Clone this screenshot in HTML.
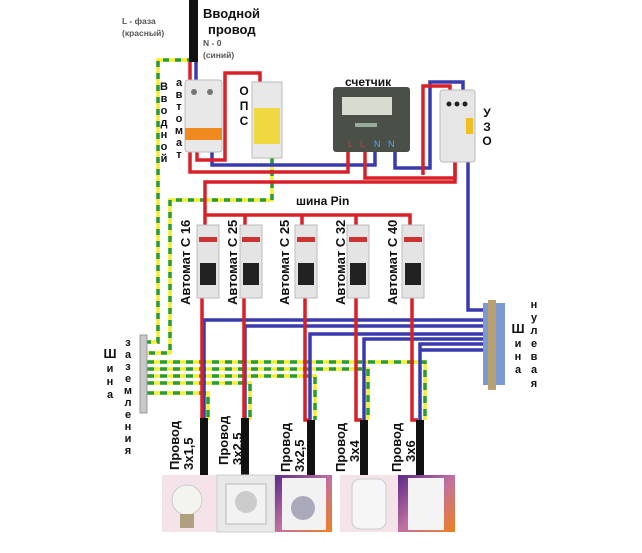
<!DOCTYPE html>
<html><head><meta charset="utf-8"><style>
html,body{margin:0;padding:0;background:#fff;}
svg{display:block;font-family:"Liberation Sans",sans-serif;}
.b{font-weight:bold;fill:#111;}
</style></head><body>
<svg width="642" height="553" viewBox="0 0 642 553" xmlns="http://www.w3.org/2000/svg">
<defs>
<linearGradient id="og" x1="0" y1="0" x2="1" y2="1"><stop offset="0" stop-color="#5a2a8a"/><stop offset="0.5" stop-color="#c070a0"/><stop offset="1" stop-color="#f08020"/></linearGradient>
</defs>
<g fill="none" stroke-width="3.5">
<path d="M193 60 H158 V342 H147" stroke="#f2ee30"/>
<path d="M193 60 H158 V342 H147" stroke="#2a9a3a" stroke-dasharray="6 6"/>
<path d="M272 158 V200 H170 V353 H147" stroke="#f2ee30"/>
<path d="M272 158 V200 H170 V353 H147" stroke="#2a9a3a" stroke-dasharray="6 6"/>
</g>
<g fill="none" stroke-width="3.5">
<g stroke="#f2ee30">
<path d="M147 362 H425 V420"/><path d="M147 369 H368 V420"/><path d="M147 376 H315 V420"/><path d="M147 383 H250 V420"/><path d="M147 393 H208 V420"/>
</g>
<g stroke="#2a9a3a" stroke-dasharray="7 6">
<path d="M147 362 H425 V420"/><path d="M147 369 H368 V420"/><path d="M147 376 H315 V420"/><path d="M147 383 H250 V420"/><path d="M147 393 H208 V420"/>
</g>
</g>
<g fill="none" stroke="#3a3ab0" stroke-width="3.5">
<path d="M196 62 V82"/>
<path d="M212 152 V165 H375 V150"/>
<path d="M395 150 V168 H430 V82 H463 V92"/>
<path d="M468 162 V310 H485"/>
<path d="M485 320 H204 V418"/>
<path d="M485 326 H245 V418"/>
<path d="M485 334 H310 V420"/>
<path d="M485 339 H364 V420"/>
<path d="M485 344 H420 V420"/>
<path d="M485 350 H421"/>
</g>
<g fill="none" stroke="#d82028" stroke-width="3.5">
<path d="M190 62 V82"/>
<path d="M190 152 V172 H348 V150"/>
<path d="M197 152 V160 H225 V73 H260 V84"/>
<path d="M365 150 V178 H455 V162"/>
<path d="M423 175 V86 H450 V92"/>
<path d="M455 162 V182 H205 V228"/>
<path d="M205 215 H245 V228 M245 215 H302 V228 M302 215 H356 V228 M356 215 H410 V228 M302 215 V228"/>
<path d="M202 298 V420 M244 298 V420 M305 298 V420 H310 M356 298 V420 H362 M412 298 V420 H418"/>
</g>
<rect x="189" y="0" width="9" height="62" fill="#111"/>
<rect x="185" y="80" width="37" height="72" rx="3" fill="#e8e8e8" stroke="#bbb"/>
<rect x="185" y="128" width="37" height="12" fill="#f08a20"/>
<circle cx="194" cy="92" r="3" fill="#777"/><circle cx="210" cy="92" r="3" fill="#777"/>
<rect x="252" y="82" width="30" height="76" fill="#e8e8e8" stroke="#bbb"/>
<rect x="254" y="108" width="26" height="36" fill="#f0d840"/>
<rect x="333" y="87" width="77" height="65" rx="3" fill="#4a5048"/>
<rect x="342" y="97" width="50" height="18" fill="#d8dcd0"/>
<rect x="355" y="123" width="22" height="4" fill="#9a9"/>
<text x="348" y="147" font-size="9" fill="#d33">L</text><text x="360" y="147" font-size="9" fill="#d33">L</text><text x="374" y="147" font-size="9" fill="#4af">N</text><text x="388" y="147" font-size="9" fill="#4af">N</text>
<rect x="440" y="90" width="35" height="72" rx="3" fill="#e6e6e6" stroke="#bbb"/>
<rect x="466" y="118" width="7" height="16" fill="#f0c020"/>
<circle cx="449" cy="104" r="2.5" fill="#222"/><circle cx="457" cy="104" r="2.5" fill="#222"/><circle cx="465" cy="104" r="2.5" fill="#222"/>
<g>
<rect x="197" y="225" width="22" height="73" fill="#e4e4e4" stroke="#bbb"/><rect x="200" y="263" width="16" height="22" fill="#222"/><rect x="199" y="237" width="18" height="5" fill="#c33"/>
<rect x="240" y="225" width="22" height="73" fill="#e4e4e4" stroke="#bbb"/><rect x="243" y="263" width="16" height="22" fill="#222"/><rect x="242" y="237" width="18" height="5" fill="#c33"/>
<rect x="295" y="225" width="22" height="73" fill="#e4e4e4" stroke="#bbb"/><rect x="298" y="263" width="16" height="22" fill="#222"/><rect x="297" y="237" width="18" height="5" fill="#c33"/>
<rect x="347" y="225" width="22" height="73" fill="#e4e4e4" stroke="#bbb"/><rect x="350" y="263" width="16" height="22" fill="#222"/><rect x="349" y="237" width="18" height="5" fill="#c33"/>
<rect x="402" y="225" width="22" height="73" fill="#e4e4e4" stroke="#bbb"/><rect x="405" y="263" width="16" height="22" fill="#222"/><rect x="404" y="237" width="18" height="5" fill="#c33"/>
</g>
<rect x="140" y="335" width="7" height="78" fill="#c8c8c8" stroke="#999"/>
<rect x="483" y="303" width="22" height="82" fill="#7a9ad0"/>
<rect x="488" y="300" width="8" height="90" fill="#b8a070"/>
<g fill="#111"><rect x="200" y="418" width="8" height="57"/><rect x="241" y="418" width="8" height="57"/><rect x="307" y="420" width="8" height="55"/><rect x="360" y="420" width="8" height="55"/><rect x="416" y="420" width="8" height="55"/></g>
<rect x="162" y="475" width="55" height="57" fill="#f4e4ea"/>
<circle cx="187" cy="500" r="15" fill="#f4f4ee" stroke="#ccc"/><rect x="180" y="514" width="14" height="14" fill="#b0a080"/>
<rect x="217" y="475" width="58" height="57" fill="#e8e8e8" stroke="#ccc"/><rect x="226" y="484" width="40" height="40" fill="#f2f2f2" stroke="#bbb"/><circle cx="246" cy="502" r="11" fill="#ccc"/>
<rect x="275" y="475" width="57" height="57" fill="url(#og)"/><rect x="282" y="478" width="44" height="52" fill="#f2f2f2"/><circle cx="303" cy="508" r="12" fill="#aab"/>
<rect x="340" y="475" width="58" height="57" fill="#f4e4ea"/><rect x="352" y="479" width="34" height="50" rx="8" fill="#f6f6f6" stroke="#ccc"/>
<rect x="398" y="475" width="57" height="57" fill="url(#og)"/><rect x="408" y="478" width="36" height="52" fill="#f4f4f4"/>
<text x="203" y="18" class="b" font-size="13">Вводной</text>
<text x="208" y="34" class="b" font-size="13">провод</text>
<text x="122" y="24" font-size="8.5" fill="#555" font-weight="bold">L - фаза</text>
<text x="122" y="36" font-size="8.5" fill="#555" font-weight="bold">(красный)</text>
<text x="203" y="46" font-size="8.5" fill="#555" font-weight="bold">N - 0</text>
<text x="203" y="58" font-size="8.5" fill="#555" font-weight="bold">(синий)</text>
<g class="b" font-size="11" text-anchor="middle">
<text x="164" y="90">В</text><text x="164" y="102">в</text><text x="164" y="114">о</text><text x="164" y="126">д</text><text x="164" y="138">н</text><text x="164" y="150">о</text><text x="164" y="162">й</text>
<text x="179" y="86">а</text><text x="179" y="98">в</text><text x="179" y="110">т</text><text x="179" y="122">о</text><text x="179" y="134">м</text><text x="179" y="146">а</text><text x="179" y="158">т</text>
<text x="244" y="95" font-size="12">О</text><text x="244" y="110" font-size="12">П</text><text x="244" y="125" font-size="12">С</text>
<text x="487" y="117" font-size="12">У</text><text x="487" y="131" font-size="12">З</text><text x="487" y="145" font-size="12">О</text>
<text x="518" y="333" font-size="13">Ш</text><text x="518" y="347">и</text><text x="518" y="360">н</text><text x="518" y="373">а</text>
<text x="534" y="308">н</text><text x="534" y="321">у</text><text x="534" y="334">л</text><text x="534" y="347">е</text><text x="534" y="360">в</text><text x="534" y="373">а</text><text x="534" y="387">я</text>
<text x="110" y="358" font-size="13">Ш</text><text x="110" y="372">и</text><text x="110" y="385">н</text><text x="110" y="398">а</text>
<text x="128" y="346">з</text><text x="128" y="358">а</text><text x="128" y="370">з</text><text x="128" y="382">е</text><text x="128" y="394">м</text><text x="128" y="406">л</text><text x="128" y="418">е</text><text x="128" y="430">н</text><text x="128" y="442">и</text><text x="128" y="454">я</text>
</g>
<text x="345" y="86" class="b" font-size="12">счетчик</text>
<text x="296" y="205" class="b" font-size="12">шина Pin</text>
<g class="b" font-size="13">
<text transform="translate(190,305) rotate(-90)">Автомат С 16</text>
<text transform="translate(237,305) rotate(-90)">Автомат С 25</text>
<text transform="translate(289,305) rotate(-90)">Автомат С 25</text>
<text transform="translate(345,305) rotate(-90)">Автомат С 32</text>
<text transform="translate(397,305) rotate(-90)">Автомат С 40</text>
<text transform="translate(179,470) rotate(-90)">Провод</text><text transform="translate(193,470) rotate(-90)">3х1,5</text>
<text transform="translate(228,465) rotate(-90)">Провод</text><text transform="translate(242,465) rotate(-90)">3х2,5</text>
<text transform="translate(290,472) rotate(-90)">Провод</text><text transform="translate(304,472) rotate(-90)">3х2,5</text>
<text transform="translate(345,472) rotate(-90)">Провод</text><text transform="translate(359,462) rotate(-90)">3х4</text>
<text transform="translate(401,472) rotate(-90)">Провод</text><text transform="translate(415,462) rotate(-90)">3х6</text>
</g>
</svg>
</body></html>
